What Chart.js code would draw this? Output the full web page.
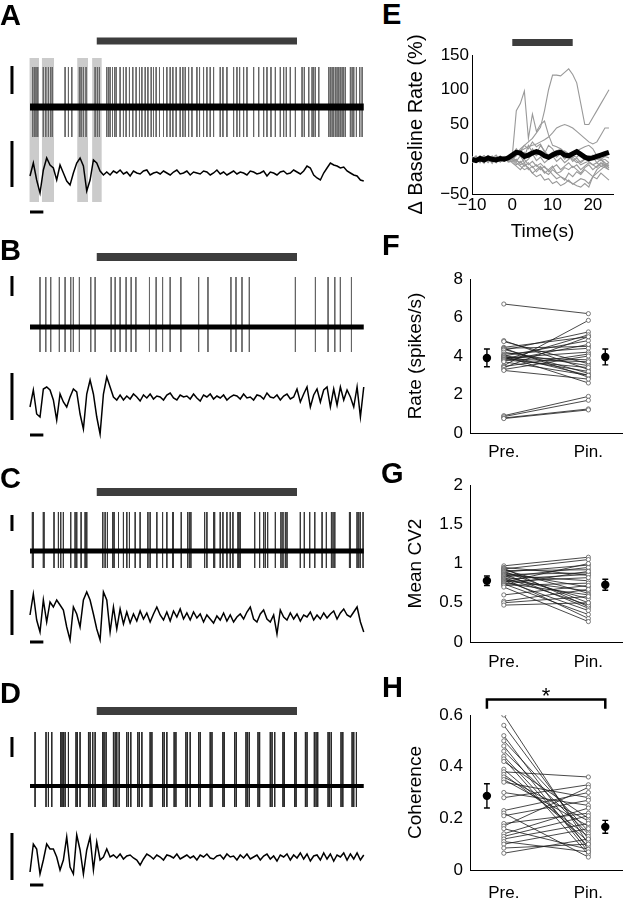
<!DOCTYPE html>
<html>
<head>
<meta charset="utf-8">
<script src="https://cdn.jsdelivr.net/npm/chart.js@4.4.0/dist/chart.umd.min.js"></script>
<style>
  body { margin: 0; background: #fff; width: 627px; height: 900px; position: relative; overflow: hidden; }
  canvas { position: absolute; }
  .lab { position: absolute; font: bold 29px "Liberation Sans", Arial, sans-serif; line-height: 1; color: #000; }
</style>
</head>
<body>
<canvas id="pA" width="380" height="225" style="left:0;top:0"></canvas>
<canvas id="pB" width="380" height="220" style="left:0;top:225px"></canvas>
<canvas id="pC" width="380" height="215" style="left:0;top:445px"></canvas>
<canvas id="pD" width="380" height="240" style="left:0;top:660px"></canvas>
<canvas id="pE" width="227" height="217" style="left:400px;top:30px"></canvas>
<canvas id="pF" width="227" height="215" style="left:400px;top:255px"></canvas>
<canvas id="pG" width="227" height="215" style="left:400px;top:465px"></canvas>
<canvas id="pH" width="227" height="220" style="left:400px;top:680px"></canvas>
<div class="lab" style="left:0;top:1px">A</div>
<div class="lab" style="left:0;top:236px">B</div>
<div class="lab" style="left:0;top:464px">C</div>
<div class="lab" style="left:0;top:679px">D</div>
<div class="lab" style="left:382px;top:0px">E</div>
<div class="lab" style="left:382px;top:231px">F</div>
<div class="lab" style="left:381px;top:459px">G</div>
<div class="lab" style="left:382px;top:673px">H</div>
<script>
const FONT = '"Liberation Sans", Arial, sans-serif';

// ---- A-D: sweeps in seconds, pinch 5-20 s
const stimOn = 5, stimOff = 20, sweepEnd = 25;
const lfpStep = 0.25;

const aSpikes = [0.2,0.33,0.45,0.58,1.0,1.18,1.38,1.55,1.68,2.63,2.88,3.13,3.7,3.83,4.0,4.2,4.88,5.05,5.2,
  5.75,5.88,6.0,6.18,6.33,6.45,6.75,7.0,7.2,7.45,7.7,7.95,8.2,8.38,8.63,8.83,9.08,9.25,9.45,9.7,10.0,10.25,
  10.5,10.7,10.95,11.25,11.45,11.63,11.88,12.13,12.5,12.7,13.0,13.25,13.5,13.75,14.25,14.45,14.75,15.25,15.5,
  15.7,16.0,16.25,16.75,17.13,17.5,17.75,18.05,18.38,18.75,19.0,19.2,19.5,19.88,20.38,20.55,20.88,21.13,21.25,
  21.38,21.63,22.38,22.5,22.63,22.75,22.88,23.0,23.13,23.25,23.38,23.5,23.63,24.0,24.13,24.25,24.45,24.7,24.88];
const bSpikes = [0.75,1.18,1.55,2.2,2.63,3.05,3.25,3.7,4.55,4.88,6.08,6.38,6.75,7.2,7.58,7.93,8.95,9.45,9.93,
  10.5,11.3,12.63,13.33,15.05,15.43,15.88,16.43,19.88,21.38,22.33,22.83,23.25,24.08];
const cSpikes = [0.18,0.25,1.0,1.05,1.8,2.13,2.3,2.5,3.05,3.38,3.5,3.83,4.13,4.2,4.25,5.45,5.63,5.8,6.2,6.3,
  6.63,7.0,7.25,7.45,7.88,8.25,8.83,9.0,9.5,9.93,10.25,10.68,10.75,11.33,11.8,11.93,12.05,13.08,13.25,13.75,
  13.83,14.25,14.45,14.75,15.0,15.2,15.58,15.65,15.75,16.83,17.2,17.5,17.63,17.8,18.38,18.8,18.95,19.13,19.25,
  20.25,20.55,20.95,21.33,21.88,22.2,22.58,22.7,22.83,23.93,24.0,24.5,24.63,24.75,24.95];
const dSpikes = [0.38,1.2,1.38,1.63,2.3,2.4,2.5,2.63,2.88,3.45,3.55,3.75,4.38,4.5,4.7,4.88,5.45,5.55,5.7,
  6.25,6.38,6.5,6.68,7.25,7.38,7.55,8.08,8.2,8.38,9.0,9.13,9.93,10.05,10.25,10.8,10.93,11.68,11.8,12.0,
  12.63,12.75,13.5,13.63,14.45,14.55,15.33,15.45,16.18,16.3,16.43,17.08,17.2,18.0,18.13,18.33,18.95,19.05,
  19.83,19.93,20.63,20.75,21.3,21.43,21.55,22.33,22.45,22.58,23.3,23.43,24.13,24.25,24.45];

// LFP, one value every 0.25 s (units: scale bar = 46)
const aLfp = [-3,10,-7,-20,3,15,8,5,-7,8,0,-8,-12,0,10,15,7,-18,-7,13,10,2,-2,
  1,-2,2,0,3,-1,1,-3,2,0,-1,2,3,-2,0,1,-1,2,0,-2,1,3,-1,0,2,-2,1,0,-1,2,1,-2,0,3,-1,1,-2,0,2,-1,1,0,-2,2,1,-1,
  0,2,-3,1,0,-2,1,2,-1,0,3,1,-1,2,
  7,5,-2,-5,-7,0,5,10,8,7,5,6,2,0,-2,-3,-7,-8];
const bLfp = [-10,7,-17,-20,8,10,7,-3,-23,3,-5,-10,0,8,5,-17,-32,3,17,3,-20,-37,3,20,10,0,-3,
  2,-3,1,-2,3,0,-4,2,-1,3,-2,1,0,-3,2,4,-1,-3,2,0,1,-2,3,-1,-4,2,0,3,-2,1,-1,2,-3,0,2,1,-2,3,-1,0,
  -3,2,1,-2,4,0,-1,2,-3,1,3,-2,0,
  8,-5,3,10,-10,2,8,-5,7,10,-10,8,-8,10,-3,7,0,-10,10,-20,10];
const cLfp = [2,23,-3,-15,17,-5,15,10,17,12,7,-10,-23,10,3,-10,17,25,17,3,-12,-23,25,17,-15,10,-12,8,-7,
  5,-6,3,-4,6,-2,4,-5,3,
  10,2,-3,5,-4,6,0,8,-2,4,
  -3,5,-1,3,-5,2,-2,-6,1,-3,4,-4,2,-5,0,3,-2,5,
  10,-2,-5,3,7,-2,-5,2,-17,7,
  0,-3,4,-2,3,-4,2,0,5,-3,2,-2,4,-1,3,6,-2,4,8,2,
  0,5,10,-5,-15];
const dLfp = [-15,13,8,-17,-3,13,8,8,0,-13,-3,20,-10,-17,22,7,-17,7,20,-13,15,-3,0,8,0,
  2,-1,3,-2,1,2,-1,-3,
  -8,-2,3,1,
  -2,2,0,-3,2,1,-1,3,-2,0,2,-1,1,-3,2,0,3,-1,-2,1,2,-2,3,0,
  1,-3,2,-1,3,-2,0,2,-3,1,3,-2,1,-4,2,0,3,-3,2,-1,4,-2,3,-4,1,2,-3,4,-2,3,-4,2,0,4,-3,3,-2,4,-3,2];

// A: windows used for the oscillation analysis
const aShadeStart = [-0.05, 0.88, 3.53, 4.65];
const aShadeEnd = [0.68, 1.8, 4.35, 5.38];

// ---- E: change of baseline rate (%), one point per second
const eTime = [-10,-9,-8,-7,-6,-5,-4,-3,-2,-1,0,1,2,3,4,5,6,7,8,9,10,11,12,13,14,15,16,17,18,19,20,21,22,23,24];
const eStim = [0, 15];
const eCells = [
  [-3,2,-5,4,0,-2,3,-4,2,-1, 0,8,15,20,25,30,38,46,70,100,121,121,120,125,130,122,110,80,50,50,60,70,80,90,100],
  [2,-4,5,-2,3,0,-5,4,-3,1, 5,70,80,98,30,65,40,50,55,35,20,18,15,10,5,0,-5,-3,0,5,2,0,-2,0,-5],
  [0,3,-2,5,-4,2,0,-3,4,-1, 2,8,12,15,18,20,22,25,28,32,38,45,48,50,48,45,40,35,30,25,22,25,35,45,45],
  [-5,0,4,-3,2,-6,3,1,-2,4, 0,5,12,20,15,25,18,22,10,5,8,12,15,10,5,8,12,15,18,20,15,5,0,-5,-10],
  [3,-2,0,-6,5,-3,2,-4,0,3, 0,-5,-10,-15,-12,-20,-25,-22,-30,-28,-35,-32,-38,-35,-30,-36,-32,-28,-30,-35,-25,-20,-15,-10,-8],
  [-2,4,-3,1,-5,2,6,-2,3,-4, -3,0,-8,-5,-15,-10,-18,-12,-20,-15,-22,-28,-25,-30,-20,-25,-18,-22,-15,-20,-25,-28,-20,-25,-30],
  [4,-3,2,5,-2,0,-4,3,-1,2, 0,12,5,10,3,15,8,20,12,5,10,3,8,0,5,-3,2,-5,0,-2,3,-5,0,-8,-5],
  [-4,2,-1,3,-3,5,-2,0,4,-3, -2,-8,-3,-10,-5,-12,-8,-15,-10,-18,-12,-8,-15,-10,-5,-12,-8,-15,-10,-5,-8,-12,-6,-10,-15],
  [1,-3,4,-2,0,3,-5,2,-2,0, 3,-2,-5,0,-8,-3,-10,-6,-12,-15,-10,-20,-25,-28,-32,-35,-38,-40,-35,-40,-25,-15,-10,-8,-12],
  [0,5,-3,2,-1,-4,4,0,-3,2, 5,15,8,3,20,10,5,12,8,20,15,5,10,12,8,5,3,8,5,2,6,3,0,4,2],
  [-2,0,3,-4,2,-1,-3,5,-2,1, -5,-10,-15,-8,-12,-20,-15,-10,-18,-22,-15,-20,-18,-12,-15,-10,-15,-20,-12,-8,-15,-10,-5,-8,-12],
  [3,-1,-4,2,4,-2,1,-3,2,-2, 2,-3,5,-5,0,8,-2,3,-5,0,5,-3,2,-5,0,3,-2,-8,-5,-3,-8,-5,-10,-12,-15]
];
const eMean = [0,-2,1,-1,2,0,-1,1,0,2, 6,10,9,4,6,9,11,9,5,3,6,9,10,6,5,8,11,7,3,1,2,4,6,8,10];
const eTicksX = [-10, 0, 10, 20];
const eTicksY = [-50, 0, 50, 100, 150];

// ---- F-H: pre-pinch vs pinch, one pair per cell
const groupLabels = ['Pre.', 'Pin.'];
const fPre = [6.7,4.8,4.75,4.45,4.4,4.4,4.35,4.3,4.2,4.1,4.05,4.0,4.0,3.95,3.9,3.9,3.85,3.8,3.8,3.75,3.7,3.5,3.45,3.4,3.3,3.25,0.9,0.85,0.78,0.75];
const fPin = [6.2,3.3,3.6,5.0,2.9,4.5,3.1,5.25,3.5,4.4,3.0,4.8,2.6,3.8,4.2,3.2,3.7,5.1,3.4,4.6,3.0,5.85,4.1,5.0,4.0,2.8,1.9,1.7,1.25,1.2];
const fMean = [3.9, 3.95];
const fSem = [0.46, 0.41];
const gPre = [0.97,0.95,0.94,0.93,0.92,0.91,0.9,0.89,0.88,0.87,0.86,0.85,0.84,0.83,0.82,0.81,0.8,0.79,0.78,0.77,0.76,0.75,0.74,0.73,0.72,0.7,0.6,0.52,0.5,0.47];
const gPin = [1.08,0.85,0.45,1.05,0.62,0.92,0.5,0.98,0.7,0.43,0.88,0.78,0.55,0.95,0.47,0.3,0.86,0.65,0.4,0.82,1.0,0.6,0.35,0.9,0.75,0.26,0.72,0.67,0.58,0.5];
const gMean = [0.78, 0.73];
const gSem = [0.06, 0.07];
const hPre = [0.6,0.56,0.52,0.5,0.48,0.46,0.44,0.43,0.42,0.39,0.38,0.37,0.36,0.35,0.34,0.3,0.28,0.23,0.22,0.21,0.18,0.17,0.16,0.14,0.13,0.12,0.11,0.1,0.085,0.065];
const hPin = [0.1,0.12,0.08,0.15,0.07,0.14,0.09,0.06,0.2,0.11,0.36,0.13,0.19,0.17,0.28,0.25,0.33,0.3,0.05,0.27,0.22,0.32,0.08,0.24,0.21,0.18,0.07,0.16,0.1,0.12];
const hMean = [0.287, 0.167];
const hSem = [0.047, 0.025];

// ---------------------------------------------------------------
function line(data, yAxisID, color, width, extra) {
  return Object.assign({ type: 'line', data, yAxisID, borderColor: color, borderWidth: width,
    pointRadius: 0, fill: false, spanGaps: false, tension: 0 }, extra || {});
}
const base = { responsive: false, animation: false, events: [],
  plugins: { legend: { display: false }, tooltip: { enabled: false } } };
const fmt = v => String(v).replace('-', '\u2212');

// left column layout (page pixels)
const pxPerSec = 13.35, sweepLeft = 30, canvasW = 380;
const barX = -1.35;
const leftPanels = [
  { id: 'pA', top: 0, h: 225, spikes: aSpikes, lfp: aLfp, stimY: 41, stimW: 7, spkBase: 107, up: 40, down: 30,
    spkBar: [66, 94], lfpBase: 173, lfpBar: [141, 187], timeY: 212, baseW: 7, spkColor: '#666', shade: [58, 202] },
  { id: 'pB', top: 225, h: 220, spikes: bSpikes, lfp: bLfp, stimY: 257, stimW: 8, spkBase: 327, up: 50, down: 25,
    spkBar: [276, 296], lfpBase: 397, lfpBar: [373, 420], timeY: 435, baseW: 5, spkColor: '#666' },
  { id: 'pC', top: 445, h: 215, spikes: cSpikes, lfp: cLfp, stimY: 492, stimW: 8, spkBase: 551, up: 39, down: 17,
    spkBar: [515, 531], lfpBase: 617, lfpBar: [590, 635], timeY: 642, baseW: 5, spkColor: '#3a3a3a' },
  { id: 'pD', top: 660, h: 240, spikes: dSpikes, lfp: dLfp, stimY: 711, stimW: 8, spkBase: 786, up: 54, down: 21,
    spkBar: [737, 757], lfpBase: 857, lfpBar: [833, 880], timeY: 885, baseW: 4, spkColor: '#2a2a2a' }
];

leftPanels.forEach(p => {
  const s = y => p.spkBase - y;
  const l = y => p.lfpBase - y;
  const spikePts = [];
  p.spikes.forEach(t => spikePts.push({ x: t, y: p.up }, { x: t, y: -p.down }, { x: t, y: null }));
  const lfpPts = p.lfp.map((v, i) => ({ x: i * lfpStep, y: v }));
  const ds = [
    line([{ x: 0, y: 0 }, { x: sweepEnd, y: 0 }], 'yS', '#000', p.baseW),
    line(spikePts, 'yS', p.spkColor, 1),
    line(lfpPts, 'yL', '#000', 1.5),
    line([{ x: stimOn, y: s(p.stimY) }, { x: stimOff, y: s(p.stimY) }], 'yS', '#3d3d3d', p.stimW),
    line([{ x: barX, y: s(p.spkBar[0]) }, { x: barX, y: s(p.spkBar[1]) }], 'yS', '#000', 3),
    line([{ x: barX, y: l(p.lfpBar[0]) }, { x: barX, y: l(p.lfpBar[1]) }], 'yL', '#000', 3),
    line([{ x: 0, y: l(p.timeY) }, { x: 1, y: l(p.timeY) }], 'yL', '#000', 3)
  ];
  if (p.shade) {
    aShadeStart.forEach((t0, i) => {
      ds.push(line([{ x: t0, y: s(p.shade[0]) }, { x: aShadeEnd[i], y: s(p.shade[0]) }], 'yS', 'rgba(0,0,0,0)', 0,
        { fill: { value: s(p.shade[1]) }, backgroundColor: '#cbcbcb', order: 5 }));
    });
  }
  new Chart(document.getElementById(p.id), {
    type: 'line',
    data: { datasets: ds },
    options: Object.assign({}, base, {
      layout: { padding: 0 },
      scales: {
        x: { type: 'linear', display: false, min: -sweepLeft / pxPerSec, max: (canvasW - sweepLeft) / pxPerSec },
        yS: { type: 'linear', display: false, min: p.spkBase - (p.top + p.h), max: p.spkBase - p.top },
        yL: { type: 'linear', display: false, min: p.lfpBase - (p.top + p.h), max: p.lfpBase - p.top }
      }
    })
  });
});

// ---- right column helpers
function yAxis(min, max, ticks, title, width, pad, titleSize) {
  return { type: 'linear', min, max,
    grid: { display: false, drawTicks: false }, border: { color: '#000', width: 1 },
    ticks: { font: { family: FONT, size: 17 }, color: '#000', padding: pad, callback: fmt },
    afterBuildTicks: s => { s.ticks = ticks.map(v => ({ value: v })); },
    afterFit: s => { s.width = width; },
    title: { display: true, text: title, font: { family: FONT, size: titleSize || 19 }, color: '#000', padding: { top: 4, bottom: 0 } } };
}
function xAxis(min, max, ticks, height, pad, labels, title) {
  const o = { type: 'linear', min, max,
    grid: { display: false, drawTicks: false }, border: { color: '#000', width: 1 },
    ticks: { font: { family: FONT, size: 17 }, color: '#000', padding: pad, maxRotation: 0, autoSkip: false, callback: fmt },
    afterBuildTicks: s => { s.ticks = ticks.map(v => ({ value: v })); },
    afterFit: s => { s.height = height; } };
  if (labels) o.ticks.callback = (v, i) => labels[i];
  if (title) o.title = { display: true, text: title, font: { family: FONT, size: 19 }, color: '#000', padding: { top: 0, bottom: 4 } };
  return o;
}

// E
const eStimY = 168;
new Chart(document.getElementById('pE'), {
  type: 'line',
  data: { datasets: [
    line(eTime.map((t, i) => ({ x: t, y: eMean[i] })), 'y', '#000', 5),
    ...eCells.map(c => line(eTime.map((t, i) => ({ x: t, y: c[i] })), 'y', '#999', 1.1)),
    line([{ x: eStim[0], y: eStimY }, { x: eStim[1], y: eStimY }], 'y', '#3d3d3d', 7, { clip: false })
  ] },
  options: Object.assign({}, base, {
    layout: { padding: { top: 25, right: 14, left: 0, bottom: 0 } },
    scales: {
      x: xAxis(-10, 25, eTicksX, 53, 1, null, 'Time(s)'),
      y: yAxis(-50, 150, eTicksY, '\u0394 Baseline Rate (%)', 72, 3, 20)
    }
  })
});

// F, G, H
const groupX = [1, 2];
const meanX = [0.8, 2.2];
const capHalf = 0.035;
function pairChart(id, pre, pin, mean, sem, yMin, yMax, yTicks, title, padTop, xHeight, xPad, extraDs, plugins) {
  const pairPts = [];
  pre.forEach((v, i) => pairPts.push({ x: groupX[0], y: v }, { x: groupX[1], y: pin[i] }, { x: groupX[1], y: null }));
  const errPts = [];
  mean.forEach((m, i) => {
    const x = meanX[i], hi = m + sem[i], lo = m - sem[i];
    errPts.push({ x, y: hi }, { x, y: lo }, { x, y: null },
      { x: x - capHalf, y: hi }, { x: x + capHalf, y: hi }, { x, y: null },
      { x: x - capHalf, y: lo }, { x: x + capHalf, y: lo }, { x, y: null });
  });
  const ds = [
    line(mean.map((m, i) => ({ x: meanX[i], y: m })), 'y', '#000', 0,
      { showLine: false, pointRadius: 4.2, pointBackgroundColor: '#000', pointBorderWidth: 0 }),
    line(errPts, 'y', '#000', 1.4),
    line(pairPts, 'y', '#1a1a1a', 0.8,
      { pointRadius: 2.1, pointBorderColor: '#5a5a5a', pointBackgroundColor: '#fff', pointBorderWidth: 0.8 })
  ].concat(extraDs || []);
  new Chart(document.getElementById(id), {
    type: 'line',
    data: { datasets: ds },
    options: Object.assign({}, base, {
      layout: { padding: { top: padTop, right: 1, left: 0, bottom: 0 } },
      scales: {
        x: xAxis(0.6, 2.4, groupX, xHeight, xPad, groupLabels),
        y: yAxis(yMin, yMax, yTicks, title, 70, 7)
      }
    }),
    plugins: plugins || []
  });
}

pairChart('pF', fPre, fPin, fMean, fSem, 0, 8, [0, 2, 4, 6, 8], 'Rate (spikes/s)', 24, 37, 9);
pairChart('pG', gPre, gPin, gMean, gSem, 0, 2, [0, 0.5, 1, 1.5, 2], 'Mean CV2', 20, 38, 10);

const bracketTop = 0.66, bracketFoot = 0.624;
const starPlugin = {
  id: 'star',
  afterDatasetsDraw(chart) {
    const { ctx, scales: { x, y } } = chart;
    ctx.save();
    ctx.font = '22px ' + FONT;
    ctx.fillStyle = '#000';
    ctx.textAlign = 'center';
    ctx.textBaseline = 'alphabetic';
    ctx.fillText('*', x.getPixelForValue((meanX[0] + meanX[1]) / 2), y.getPixelForValue(bracketTop) + 3);
    ctx.restore();
  }
};
pairChart('pH', hPre, hPin, hMean, hSem, 0, 0.6, [0, 0.2, 0.4, 0.6], 'Coherence', 35, 30, 13,
  [line([{ x: meanX[0], y: bracketFoot }, { x: meanX[0], y: bracketTop }, { x: meanX[1], y: bracketTop }, { x: meanX[1], y: bracketFoot }],
    'y', '#000', 2.5, { clip: false })],
  [starPlugin]);
</script>
</body>
</html>
